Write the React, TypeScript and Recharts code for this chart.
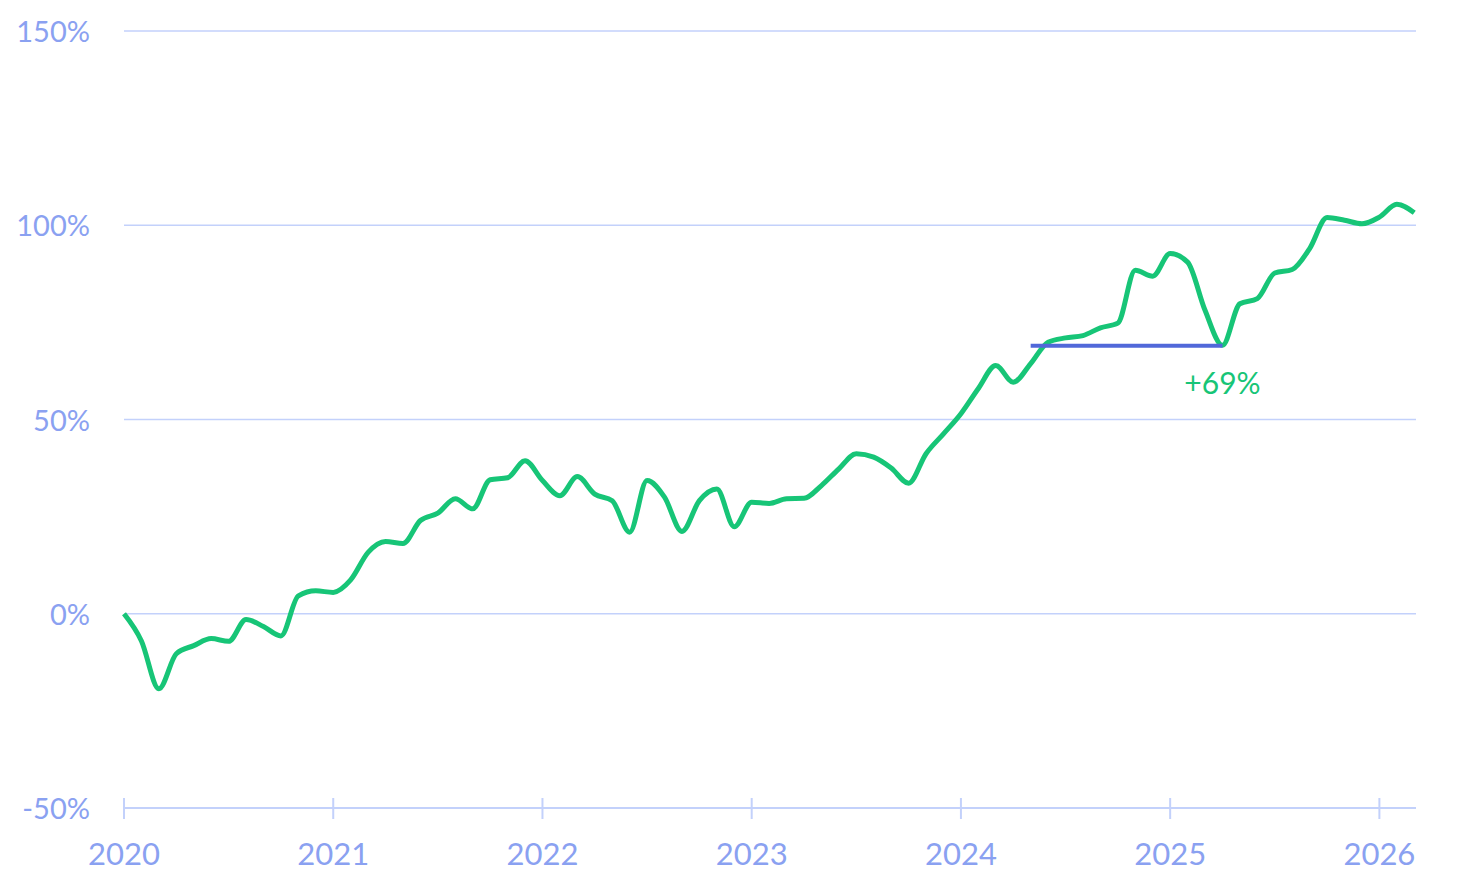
import React from 'react';
import {
  LineChart,
  Line,
  XAxis,
  YAxis,
  CartesianGrid,
  ReferenceLine,
  ReferenceDot,
} from 'recharts';

// monthly values from Jan 2020 to Mar 2026, in percent
const monthlyReturn = [
  0, -7, -19.3, -10.3, -8.2, -6.4, -7.1, -1.5, -3.3, -5.7, 4.6, 5.9,
  5.5, 8.7, 15.8, 18.6, 18.1, 24, 25.9, 29.6, 27, 34.5, 35, 39.4,
  34.3, 30.4, 35.3, 30.8, 29.1, 21, 34.3, 30, 21.2, 29.1, 32.1, 22.4,
  28.7, 28.4, 29.6, 29.7, 33, 37.3, 41.2, 40.3, 37.5, 33.6, 41.2, 46.3,
  51.5, 58, 63.9, 59.6, 64.4, 69.9, 71, 71.6, 73.6, 74.8, 88.4, 86.9,
  92.7, 90.5, 78.1, 69.1, 79.8, 81.1, 87.7, 88.6, 94, 102, 101.3, 100.4,
  102.1, 105.4, 103.2,
];

const yearLabels = ['2020', '2021', '2022', '2023', '2024', '2025', '2026'];
const yearTicks = yearLabels.map((_, i) => i * 12);
const percentTicks = [-50, 0, 50, 100, 150];

// drawdown marker: from month 52 to month 63 at +69%
const markStart = 52;
const markEnd = 63;
const markValue = 69;
const markLabel = '+69%';

const data = monthlyReturn.map((value, month) => ({ month, value }));

const GREEN = '#17c577';
const AXIS_BLUE = '#c3d1fb';
const TEXT_BLUE = '#8aa1f1';
const FONT = 'Lato, "Open Sans", sans-serif';

const YearTick = (props: any) => {
  const { x, y, payload } = props;
  return (
    <g>
      <line x1={x} x2={x} y1={y - 10} y2={y + 11} stroke={AXIS_BLUE} strokeWidth={2} />
      <text x={x} y={y + 57} textAnchor="middle" fill={TEXT_BLUE} fontSize={31} fontFamily={FONT}>
        {yearLabels[Math.round(payload.value / 12)]}
      </text>
    </g>
  );
};

const PercentTick = (props: any) => {
  const { x, y, payload } = props;
  return (
    <text x={x} y={y + 11} textAnchor="end" fill={TEXT_BLUE} fontSize={29} fontFamily={FONT}>
      {`${payload.value}%`}
    </text>
  );
};

const App: React.FC = () => {
  return (
    <div style={{ width: 1461, height: 870, fontFamily: FONT }}>
      <LineChart
        width={1461}
        height={870}
        data={data}
        margin={{ top: 23, right: 53, left: 0, bottom: 0 }}
      >
        <CartesianGrid vertical={false} stroke={AXIS_BLUE} strokeWidth={1.5} />
        <XAxis
          dataKey="month"
          type="number"
          domain={[0, 74.1]}
          ticks={yearTicks}
          tick={<YearTick />}
          tickLine={false}
          tickSize={0}
          tickMargin={0}
          height={70}
          axisLine={{ stroke: AXIS_BLUE, strokeWidth: 2 }}
          interval={0}
        />
        <YAxis
          type="number"
          domain={[-50, 150]}
          ticks={percentTicks}
          tick={<PercentTick />}
          axisLine={false}
          tickLine={false}
          tickSize={0}
          tickMargin={34}
          width={116}
          interval={0}
        />
        <Line
          type="monotone"
          dataKey="value"
          stroke={GREEN}
          strokeWidth={5}
          dot={false}
          isAnimationActive={false}
        />
        <ReferenceLine
          segment={[
            { x: markStart, y: markValue },
            { x: markEnd, y: markValue },
          ]}
          stroke="#5168d9"
          strokeWidth={4}
        />
        <ReferenceDot
          x={markEnd}
          y={markValue}
          r={0}
          fill="none"
          stroke="none"
          label={{
            value: markLabel,
            position: 'bottom',
            offset: 27,
            fill: GREEN,
            fontSize: 30,
            fontFamily: FONT,
          }}
        />
      </LineChart>
    </div>
  );
};

export default App;
